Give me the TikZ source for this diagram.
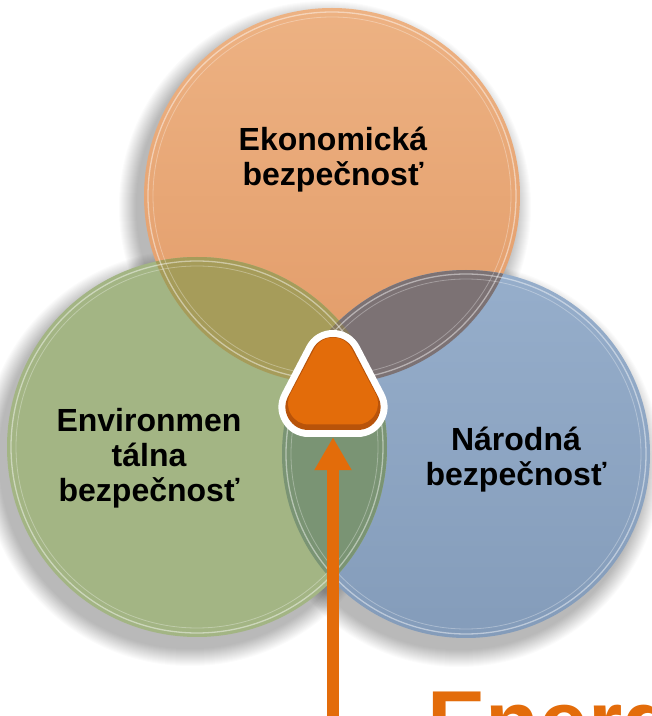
\documentclass[tikz,border=0pt]{standalone}
\usepackage{fontspec}
\setmainfont{Liberation Sans}
\usepackage{tikz}
\usetikzlibrary{calc, arrows.meta}
\definecolor{ecofill}{HTML}{EDB283}
\definecolor{ecofilldark}{HTML}{E29B68}
\definecolor{envfill}{HTML}{A3B584}
\definecolor{natfill}{HTML}{96AECB}
\definecolor{natfilldark}{HTML}{849CBA}
\definecolor{ecoenv}{HTML}{A69C5A}
\definecolor{econat}{HTML}{7C7274}
\definecolor{envnat}{HTML}{7A9474}
\definecolor{allthree}{HTML}{877A5C}
\definecolor{energy}{HTML}{E36C0A}
\definecolor{energydark}{HTML}{B8530A}
\tikzset{
circletext/.style={
  font=\fontsize{32}{35}\selectfont\bfseries,
  align=center,
  text=black
},
rim/.style={draw=white, line width=1.3pt, opacity=.45},
innerrim/.style={draw=white, line width=.8pt, opacity=.3},
haze/.style={fill=black, opacity=.014},
}

\begin{document}
\begin{tikzpicture}[x=1pt, y=1pt]
    \useasboundingbox (0,0) rectangle (652,716);
    \fill[white] (0,0) rectangle (652,716);
    \clip (0,0) rectangle (652,716);
    % circle centres
    \coordinate (ecoc) at (332,520);
    \coordinate (envc) at (197,269);
    \coordinate (natc) at (466,262);
    % soft shadows first, built up from faint rings
    \foreach \c/\r in {ecoc/188, natc/184, envc/190}{
        \foreach \k in {0,...,17}{
            \path[haze] ([shift={(-7pt,-11pt)}]\c) circle (\r pt + 18pt - \k pt);
        }
    }
    % the three circles
    \shade[top color=ecofill, bottom color=ecofilldark] (ecoc) circle (188pt);
    \shade[top color=natfill, bottom color=natfilldark] (natc) circle (184pt);
    \fill[envfill] (envc) circle (190pt);
    % overlaps
    \begin{scope}
        \clip (envc) circle (190pt);
        \fill[envnat] (natc) circle (184pt);
    \end{scope}
    \begin{scope}
        \clip (ecoc) circle (188pt);
        \fill[ecoenv] (envc) circle (190pt);
        \fill[econat] (natc) circle (184pt);
        \clip (envc) circle (190pt);
        \fill[allthree] (natc) circle (184pt);
    \end{scope}
    % glassy rims
    \foreach \c/\r in {ecoc/188, natc/184, envc/190}{
        \draw[rim] (\c) circle (\r pt - 4pt);
        \draw[innerrim] (\c) circle (\r pt - 9pt);
    }
    \node[circletext] (ecotext) at (333,556) {Ekonomická\\bezpečnosť};
    \node[circletext] (envtext) at (149,258) {Environmen\\tálna\\bezpečnosť};
    \node[circletext] (nattext) at (516,256) {Národná\\bezpečnosť};
    % core in the middle
    \node[minimum width=107pt, minimum height=107pt, inner sep=0pt] (core) at (333,332.5) {};
    \coordinate (src) at (333,-20);
    \draw[energy, line width=12pt, -{Triangle[width=35pt, length=33pt]}] (src) -- (core.south);
    \filldraw[white, line width=60pt, line join=round]
        ($(core)+(0,23.5)$) -- ($(core)+(-24.5,-23.5)$) -- ($(core)+(24.5,-23.5)$) -- cycle;
    \filldraw[energydark, line width=46pt, line join=round]
        ($(core)+(0,23.5)$) -- ($(core)+(-24.5,-23.5)$) -- ($(core)+(24.5,-23.5)$) -- cycle;
    \filldraw[energy, line width=42pt, line join=round]
        ($(core)+(0,25)$) -- ($(core)+(-24,-20)$) -- ($(core)+(24,-20)$) -- cycle;
    \node[anchor=base west, inner sep=0pt, energy, font=\fontsize{88}{90}\selectfont\bfseries] (title) at (427,-37) {Energ};
\end{tikzpicture}
\end{document}
